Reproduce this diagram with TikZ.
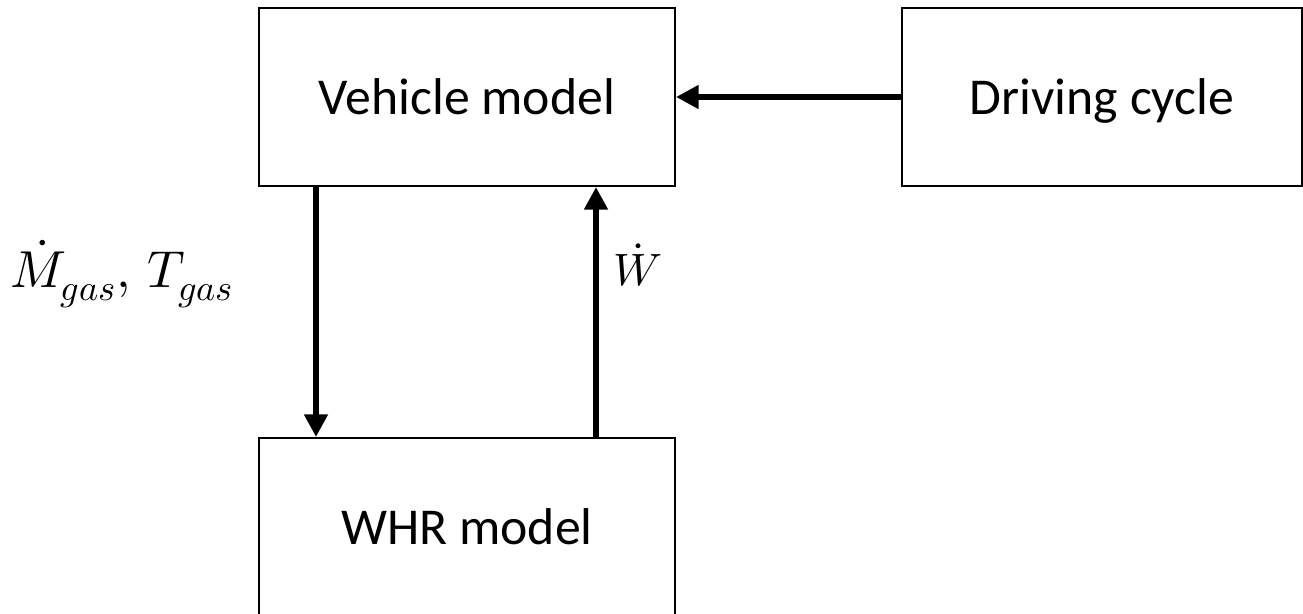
\documentclass[tikz,border=0pt]{standalone}
\usepackage{amsmath}
\usepackage{unicode-math}
\setmainfont{Carlito}
\setmathfont{Latin Modern Math}
\usetikzlibrary{arrows.meta}

\begin{document}
\begin{tikzpicture}[x=0.75pt, y=0.75pt,
  block/.style={draw, line width=1.5pt, rectangle, minimum width=312pt,
    minimum height=133.5pt, text height=27pt, text depth=0pt,
    font=\fontsize{38.8}{46}\selectfont},
  flow/.style={line width=4.5pt, -{Triangle[length=17pt, width=17pt]}},
  every node/.style={inner sep=0pt}]

  % --- page frame ---
  \useasboundingbox (0,0) rectangle (1303,614);

  % --- positions of the columns ---
  \def\xdown{316}
  \def\xup{596}

  % ============================================================
  % Blocks
  % ============================================================
  \node[block] (veh) at (467,517) {Vehicle model};
  \node[block, minimum width=300pt] (drive) at (1102,517) {Driving cycle};
  \node[block] (whr) at (467,87) {WHR model};

  % ============================================================
  % Signal flow
  % ============================================================
  \coordinate (dn) at (\xdown,300);
  \coordinate (up) at (\xup,300);

  \draw[flow] (drive.west) -- (veh.east);
  \draw[flow] (veh.south -| dn) -- (whr.north -| dn);
  \draw[flow] (whr.north -| up) -- (veh.south -| up);

  % --- labels ---
  \node[font=\fontsize{39}{46}\selectfont] (lgas) at (122,340) {$\dot{M}_{gas},\, T_{gas}$};
  \node[font=\fontsize{34}{40}\selectfont] (lwork) at (638,349) {$\dot{W}$};

\end{tikzpicture}
\end{document}
